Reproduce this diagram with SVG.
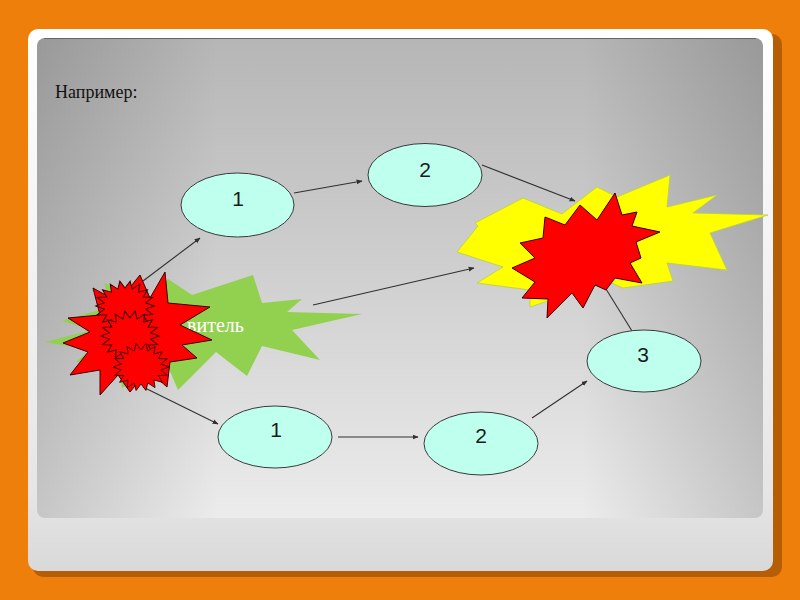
<svg xmlns="http://www.w3.org/2000/svg" xmlns:xlink="http://www.w3.org/1999/xlink" width="800" height="600" viewBox="0 0 800 600">
<defs>
<style>
.node ellipse{fill:#bfffee;stroke:#3a3a3a;stroke-width:1}
.num{font-family:"Liberation Sans",Arial,sans-serif;font-size:21px;fill:#1a1a1a;text-anchor:middle}
.conn line{stroke:#303030;stroke-width:1.1;marker-end:url(#ah)}
.red{fill:#ff0000;stroke:#3a0000;stroke-width:1;stroke-linejoin:miter}
</style>
<marker id="ah" viewBox="0 0 10 10" refX="9" refY="5" markerWidth="6" markerHeight="6" orient="auto" markerUnits="userSpaceOnUse"><path d="M0,1 L10,5 L0,9 z" fill="#303030"/></marker>
<linearGradient id="pv" x1="0" y1="0" x2="0" y2="1"><stop offset="0" stop-color="#b6b6b6"/><stop offset="0.5" stop-color="#d0d0d0"/><stop offset="1" stop-color="#ececec"/></linearGradient>
<linearGradient id="ph" x1="0" y1="0" x2="1" y2="0"><stop offset="0" stop-color="#000" stop-opacity="0.16"/><stop offset="0.25" stop-color="#000" stop-opacity="0"/><stop offset="0.75" stop-color="#000" stop-opacity="0"/><stop offset="1" stop-color="#000" stop-opacity="0.16"/></linearGradient>
<linearGradient id="card" x1="0" y1="0" x2="0" y2="1"><stop offset="0" stop-color="#ffffff"/><stop offset="0.85" stop-color="#e6e6e6"/><stop offset="1" stop-color="#d9d9d9"/></linearGradient>
<polygon id="sb" points="28,0 19.7,3.5 26.3,9.6 17.3,10 21.4,18 12.9,15.3 14,24.2 6.8,18.8 4.9,27.6 0,20 -4.9,27.6 -6.8,18.8 -14,24.2 -12.9,15.3 -21.4,18 -17.3,10 -26.3,9.6 -19.7,3.5 -28,0 -19.7,-3.5 -26.3,-9.6 -17.3,-10 -21.4,-18 -12.9,-15.3 -14,-24.2 -6.8,-18.8 -4.9,-27.6 0,-20 4.9,-27.6 6.8,-18.8 14,-24.2 12.9,-15.3 21.4,-18 17.3,-10 26.3,-9.6 19.7,-3.5"/>
</defs>
<rect x="0" y="0" width="800" height="600" fill="#ef7f0b"/>
<rect x="33" y="34" width="749" height="543" rx="10" fill="#b65e05"/>
<rect x="28" y="29" width="745" height="542" rx="10" fill="url(#card)"/>
<rect x="37" y="38" width="726" height="480" rx="8" fill="url(#pv)"/>
<rect x="37" y="38" width="726" height="480" rx="8" fill="url(#ph)"/>
<line x1="44" y1="38.5" x2="756" y2="38.5" stroke="#666" stroke-width="1"/>
<text x="55" y="98" font-family="Liberation Serif,'Times New Roman',serif" font-size="18" fill="#111">Например:</text>
<g id="connectors" class="conn">
<line x1="143" y1="281" x2="200" y2="238"/>
<line x1="294" y1="193" x2="362" y2="181"/>
<line x1="482" y1="165" x2="575" y2="201"/>
<line x1="313" y1="305" x2="474" y2="268"/>
<line x1="143" y1="387" x2="218" y2="424"/>
<line x1="338" y1="437" x2="418" y2="437"/>
<line x1="532" y1="418" x2="587" y2="381"/>
<line x1="632" y1="331" x2="606" y2="289" style="marker-end:none"/>
</g>
<g id="n1top" class="node"><ellipse cx="237.5" cy="205" rx="56.5" ry="32"/><text class="num" x="238" y="206">1</text></g>
<g id="n2top" class="node"><ellipse cx="425" cy="175" rx="57" ry="31.5"/><text class="num" x="425" y="177">2</text></g>
<g id="n3" class="node"><ellipse cx="644" cy="361" rx="57" ry="31"/><text class="num" x="643" y="362">3</text></g>
<g id="n1bot" class="node"><ellipse cx="275" cy="437" rx="57" ry="31"/><text class="num" x="276" y="437">1</text></g>
<g id="n2bot" class="node"><ellipse cx="481" cy="443.5" rx="57" ry="31.5"/><text class="num" x="481" y="443">2</text></g>
<g id="sender">
<polygon fill="#92d050" points="45,342 92,330 62,321 112,306 104,283 150,300 168,279 192,295 253,275 262,303 302,299 287,312 362,314 292,330 320,360 262,346 247,376 216,352 178,390 166,362 122,388 118,360 76,362 90,350"/>
<text x="187" y="332" font-family="Liberation Serif,'Times New Roman',serif" font-size="20" fill="#ffffff">витель</text>
</g>
<g id="receiver">
<polygon fill="#ffff00" stroke="#b8d040" stroke-width="0.8" points="457,252 478,226 475,223 523,198 562,214 597,187 617,197 670,175 667,207 717,195 693,213 768,215 710,233 727,270 667,263 673,281 623,288 607,281 530,307 530,290 477,283 503,267"/>
<text x="632" y="255" font-family="Liberation Serif,'Times New Roman',serif" font-size="16" fill="#3aa53a">ь</text>
</g>
<g id="burst-left">
<polygon class="red" points="93,288 118,302 140,275 150,298 165,272 168,303 210,307 180,325 212,340 182,345 197,358 170,362 167,387 148,370 130,392 118,375 100,395 100,370 70,375 88,352 63,343 90,332 68,318 100,315"/>
<use xlink:href="#sb" class="red" transform="translate(125,306) scale(1.05,0.9)"/>
<use xlink:href="#sb" class="red" transform="translate(130,336) scale(1.05,0.9)"/>
<use xlink:href="#sb" class="red" transform="translate(141,367) scale(1.0,0.85)"/>
</g>
<g id="burst-right">
<polygon class="red" points="615,193 622,215 637,212 632,226 660,232 636,242 641,258 630,263 642,283 615,278 606,290 595,285 583,308 572,293 547,318 548,299 522,298 535,282 512,268 535,258 520,243 543,238 545,217 565,225 580,205 597,220"/>
</g>
</svg>
